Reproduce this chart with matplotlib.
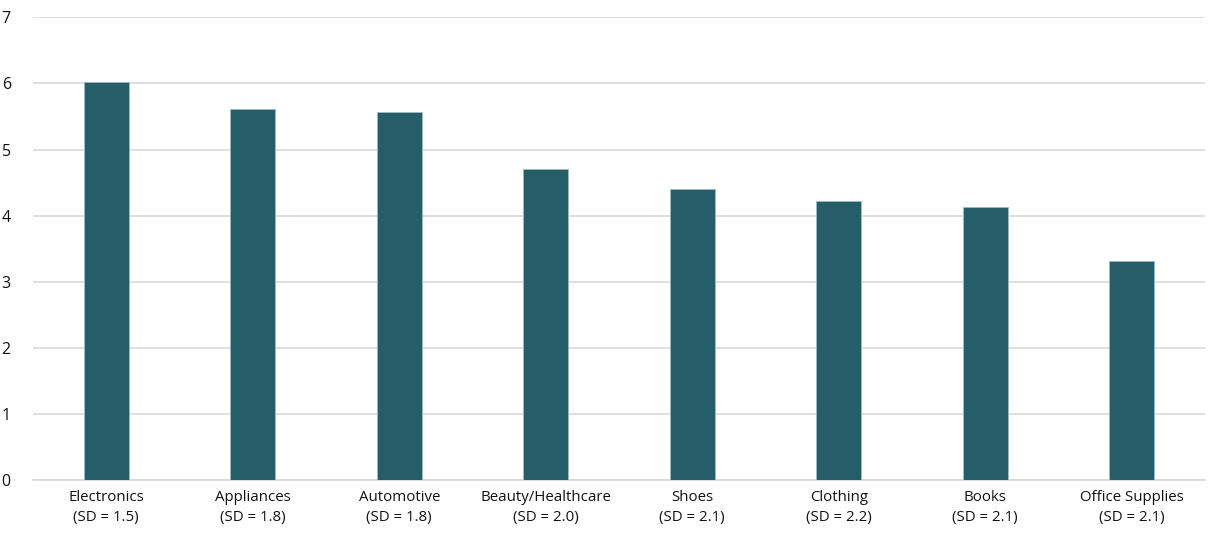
import matplotlib.pyplot as plt
import numpy as np

# categories, their SD notes and the mean values
categories = ["Electronics", "Appliances", "Automotive", "Beauty/Healthcare",
              "Shoes", "Clothing", "Books", "Office Supplies"]
sds = ["1.5", "1.8", "1.8", "2.0", "2.1", "2.2", "2.1", "2.1"]
values = [6.02, 5.61, 5.56, 4.71, 4.40, 4.22, 4.13, 3.32]
y_ticks = [0, 1, 2, 3, 4, 5, 6, 7]

plt.rcParams['font.family'] = ['Open Sans', 'DejaVu Sans']

fig = plt.figure(figsize=(12.08, 5.34), dpi=100)
ax = fig.add_axes([0.0273, 0.101, 0.9702, 0.8666])

x = np.arange(len(categories))
ax.bar(x, values, width=0.31, color="#255E69", edgecolor="#9DBCC2",
       linewidth=0.6, zorder=3)

labels = [c + "\n(SD = " + s + ")" for c, s in zip(categories, sds)]
ax.set_xticks(x)
ax.set_xticklabels(labels, fontsize=10.8, color="#111111", linespacing=1.45)
ax.set_xlim(-0.5, len(categories) - 0.5)

ax.set_ylim(0, 7)
ax.set_yticks(y_ticks)
ax.set_yticklabels([str(t) for t in y_ticks], fontsize=11.5, color="#111111")
ax.yaxis.grid(True, color="#D9D9D9", linewidth=1.2, zorder=0)

for side in ["top", "right", "left"]:
    ax.spines[side].set_visible(False)
ax.spines["bottom"].set_color("#D9D9D9")
ax.spines["bottom"].set_linewidth(1.2)
ax.tick_params(axis="both", length=0)
ax.tick_params(axis="y", pad=16)
ax.tick_params(axis="x", pad=7)

fig.savefig("out.png", dpi=100)
